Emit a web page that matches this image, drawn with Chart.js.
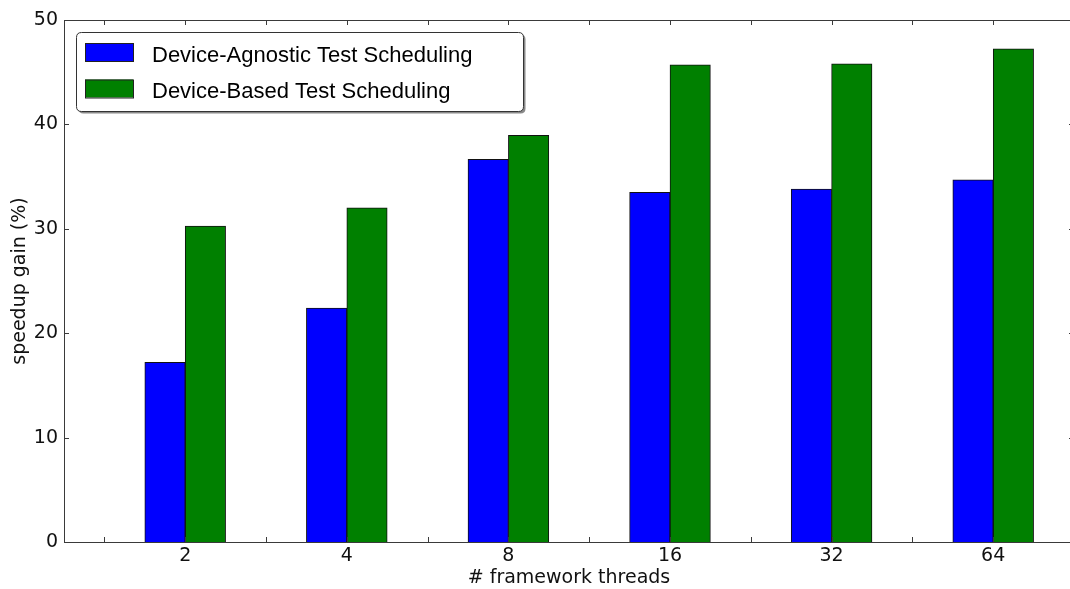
<!DOCTYPE html>
<html>
<head>
<meta charset="utf-8">
<script src="https://cdn.jsdelivr.net/npm/chart.js@4/dist/chart.umd.min.js"></script>
<style>
  html, body { margin: 0; padding: 0; background: #fff; overflow: hidden; }
  #wrap { width: 1080px; height: 589px; }
</style>
</head>
<body>
<div id="wrap"><canvas id="c" width="1080" height="589"></canvas></div>
<script>
// ---- data ----
const categories = ['2', '4', '8', '16', '32', '64'];
const agnosticGain = [17.2, 22.4, 36.65, 33.5, 33.8, 34.7];
const basedGain = [30.25, 32.0, 38.95, 45.7, 45.8, 47.25];
const seriesNames = ['Device-Agnostic Test Scheduling', 'Device-Based Test Scheduling'];
const yTicks = [0, 10, 20, 30, 40, 50];

const toPoints = arr => arr.map((v, i) => ({ x: i, y: v }));

const frameColor = '#3a3a3a';
const tickFont = { family: 'DejaVu Sans', size: 19 };

const framePlugin = {
  id: 'frame',
  afterDatasetsDraw(chart) {
    const { ctx, chartArea: a, scales } = chart;
    ctx.save();
    ctx.strokeStyle = frameColor;
    ctx.lineWidth = 1;
    const L = 5;
    ctx.beginPath();
    scales.x.ticks.forEach(t => {
      const px = Math.round(scales.x.getPixelForValue(t.value)) + 0.5;
      ctx.moveTo(px, a.bottom); ctx.lineTo(px, a.bottom - L);
      ctx.moveTo(px, a.top); ctx.lineTo(px, a.top + L);
    });
    scales.y.ticks.forEach(t => {
      const py = Math.round(scales.y.getPixelForValue(t.value)) + 0.5;
      ctx.moveTo(a.left, py); ctx.lineTo(a.left + L, py);
      ctx.moveTo(a.right, py); ctx.lineTo(a.right - L, py);
    });
    ctx.stroke();
    ctx.strokeRect(Math.round(a.left) + 0.5, Math.round(a.top) + 0.5,
                   Math.round(a.right - a.left), Math.round(a.bottom - a.top));
    ctx.restore();
  }
};

function roundRect(ctx, x, y, w, h, r) {
  ctx.beginPath();
  ctx.moveTo(x + r, y);
  ctx.lineTo(x + w - r, y);
  ctx.quadraticCurveTo(x + w, y, x + w, y + r);
  ctx.lineTo(x + w, y + h - r);
  ctx.quadraticCurveTo(x + w, y + h, x + w - r, y + h);
  ctx.lineTo(x + r, y + h);
  ctx.quadraticCurveTo(x, y + h, x, y + h - r);
  ctx.lineTo(x, y + r);
  ctx.quadraticCurveTo(x, y, x + r, y);
  ctx.closePath();
}

const legendPlugin = {
  id: 'innerLegend',
  afterDraw(chart) {
    const { ctx, chartArea: a } = chart;
    const bx = a.left + 12, by = a.top + 12, bw = 447, bh = 79;
    ctx.save();
    // shadow
    roundRect(ctx, bx + 2.5, by + 2.5, bw, bh, 5);
    ctx.fillStyle = '#8a8a8a';
    ctx.fill();
    roundRect(ctx, bx + 0.5, by + 0.5, bw, bh, 5);
    ctx.fillStyle = '#ffffff';
    ctx.fill();
    ctx.strokeStyle = '#333';
    ctx.lineWidth = 1;
    ctx.stroke();
    ctx.font = '22px "Liberation Sans", Arial, sans-serif';
    ctx.textBaseline = 'alphabetic';
    ctx.textAlign = 'left';
    chart.data.datasets.forEach((ds, i) => {
      const sy = by + 11 + i * 36.5;
      ctx.fillStyle = ds.backgroundColor;
      ctx.fillRect(bx + 9, sy, 48, 18);
      ctx.strokeStyle = '#222';
      ctx.strokeRect(bx + 9.5, sy + 0.5, 48, 18);
      ctx.fillStyle = '#000';
      ctx.fillText(ds.label, bx + 76, sy + 18.7);
    });
    ctx.restore();
  }
};

new Chart(document.getElementById('c'), {
  type: 'bar',
  data: {
    datasets: [
      {
        label: seriesNames[0],
        data: toPoints(agnosticGain),
        backgroundColor: '#0000ff',
        borderColor: '#111',
        borderWidth: 1,
        categoryPercentage: 1.0,
        barPercentage: 1.0
      },
      {
        label: seriesNames[1],
        data: toPoints(basedGain),
        backgroundColor: '#008000',
        borderColor: '#111',
        borderWidth: 1,
        categoryPercentage: 1.0,
        barPercentage: 1.0
      }
    ]
  },
  options: {
    responsive: false,
    animation: false,
    devicePixelRatio: 1,
    layout: { padding: { top: 20, right: 6, left: 0, bottom: 0 } },
    plugins: { legend: { display: false }, tooltip: { enabled: false } },
    scales: {
      x: {
        type: 'linear',
        offset: false,
        min: -0.75,
        max: 5.5,
        grid: { display: false, drawTicks: false, offset: false },
        border: { display: false },
        afterBuildTicks(scale) {
          const t = [];
          for (let k = -1; k <= 2 * (categories.length - 1) + 1; k++) t.push({ value: k / 2 });
          scale.ticks = t;
        },
        afterFit(scale) { scale.height = 47; },
        ticks: {
          autoSkip: false,
          maxRotation: 0,
          padding: 3,
          color: '#111',
          font: tickFont,
          callback: v => (Number.isInteger(v) && v >= 0 && v < categories.length) ? categories[v] : ''
        },
        title: {
          display: true,
          text: '# framework threads',
          color: '#111',
          font: tickFont,
          padding: { top: 0, bottom: 0 }
        }
      },
      y: {
        min: 0,
        max: 50,
        grid: { display: false, drawTicks: false },
        border: { display: false },
        afterBuildTicks(scale) { scale.ticks = yTicks.map(v => ({ value: v })); },
        afterFit(scale) { scale.width = 64; },
        ticks: { padding: 6, color: '#111', font: tickFont },
        title: {
          display: true,
          text: 'speedup gain (%)',
          color: '#111',
          font: tickFont,
          padding: { top: 9, bottom: 0 }
        }
      }
    }
  },
  plugins: [framePlugin, legendPlugin]
});
</script>
</body>
</html>
